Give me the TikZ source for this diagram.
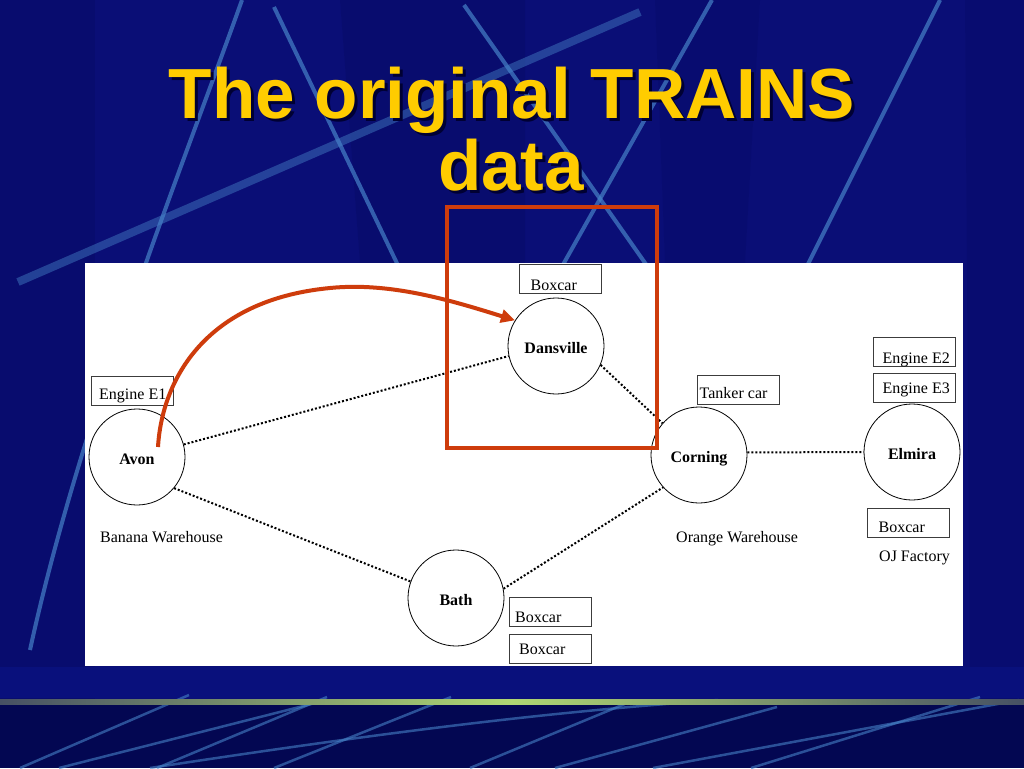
\documentclass[tikz,border=0pt]{standalone}
\usepackage{fontspec}
\setmainfont{Liberation Serif}
\newfontfamily\titlefont{Liberation Sans}
\usetikzlibrary{arrows.meta}
\definecolor{bgnavy}{RGB}{10,14,118}
\definecolor{bandnavy}{RGB}{4,8,90}
\definecolor{darknavy}{RGB}{3,7,82}
\definecolor{stripnavy}{RGB}{9,16,124}
\definecolor{streak}{RGB}{70,130,200}
\definecolor{gold}{RGB}{255,204,0}
\definecolor{redor}{RGB}{206,60,12}
\definecolor{boxgray}{RGB}{60,60,60}
\definecolor{lgreen}{RGB}{175,215,115}
\definecolor{lgray}{RGB}{70,80,100}
\begin{document}
\begin{tikzpicture}[x=1pt,y=-1pt,
  town/.style={circle, draw=black, fill=white, line width=0.8pt, minimum size=96pt, inner sep=0pt, text height=14pt, text depth=0pt, font=\fontsize{16}{19}\selectfont\bfseries},
  cbox/.style={rectangle, draw=boxgray, fill=white, line width=1pt, minimum width=82pt, minimum height=29pt, inner sep=0pt},
  lbl/.style={font=\fontsize{16}{19}\selectfont, inner sep=0pt, anchor=base west},
  track/.style={line width=2pt, dash pattern=on 2pt off 2pt},
  titletext/.style={font=\titlefont\bfseries\fontsize{71}{80}\selectfont, inner sep=0pt, anchor=base},
  streakline/.style={draw=streak, line width=4pt, opacity=0.7},
  lowstreak/.style={draw=streak, line width=2.5pt, opacity=0.6},
  redarrow/.style={draw=redor, line width=4pt, -{Triangle[length=14pt,width=13pt]}}
]
\useasboundingbox (0,0) rectangle (1024,768);
% background
\fill[bgnavy] (0,0) rectangle (1024,768);
\fill[bandnavy, opacity=0.25] (0,0) rectangle (95,700);
\fill[bandnavy, opacity=0.25] (340,0) -- (525,0) -- (525,263) -- (360,263) -- cycle;
\fill[bandnavy, opacity=0.2] (655,0) -- (760,0) -- (745,263) -- (665,263) -- cycle;
\fill[bandnavy, opacity=0.2] (965,0) -- (1024,0) -- (1024,700) -- (970,700) -- cycle;
% top streaks
\draw[streakline] (242,0) .. controls (185,160) and (80,420) .. (30,650);
\draw[streakline] (274,7) -- (405,280);
\draw[streakline, line width=8pt, opacity=0.45] (640,12) -- (18,282);
\draw[streakline] (464,5) -- (650,270);
\draw[streakline] (712,0) -- (560,270);
\draw[streakline] (940,0) -- (805,270);
% bottom
\fill[stripnavy] (0,667) rectangle (1024,698);
\fill[darknavy] (0,704) rectangle (1024,768);
\begin{scope}
\clip (0,690) rectangle (1024,768);
\draw[lowstreak] (189,695) -- (20,768);
\draw[lowstreak] (327,697) -- (157,768);
\draw[lowstreak] (451,697) -- (274,768);
\draw[lowstreak] (150,768) .. controls (400,730) and (550,712) .. (718,700);
\draw[lowstreak] (59,768) -- (327,700);
\draw[lowstreak] (627,703) -- (470,768);
\draw[lowstreak] (777,707) -- (555,768);
\draw[lowstreak] (1019,700) -- (653,768);
\draw[lowstreak] (980,697) -- (751,768);
\end{scope}
\shade[left color=lgray, right color=lgray, middle color=lgreen] (0,699) rectangle (1024,704);
% title
\node[titletext, text=black!80!blue] (t1s) at (515,121) {The original TRAINS};
\node[titletext, text=black!80!blue] (t2s) at (514,193) {data};
\node[titletext, text=gold] (t1) at (512,118) {The original TRAINS};
\node[titletext, text=gold] (t2) at (511,190) {data};
% panel
\fill[white] (85,263) rectangle (963,666);
% towns
\node[town] (avon) at (137,457) {Avon};
\node[town] (dans) at (556,346) {Dansville};
\node[town] (corn) at (699,455) {Corning};
\node[town] (elm) at (912,452) {Elmira};
\node[town] (bath) at (456,598) {Bath};
% tracks
\draw[track] (avon.15) -- (dans.192);
\draw[track] (avon.-40) -- (bath.160);
\draw[track] (dans.-23) -- (corn.139);
\draw[track] (corn.3) -- (elm.180);
\draw[track] (bath.11) -- (corn.-138);
% boxes
\node[cbox] (bxD) at (560,278.5) {};
\node[lbl] (tD) at ([xshift=12pt,yshift=3pt]bxD.south west) {Boxcar};
\node[cbox] (bxE1) at (132.5,391) {};
\node[lbl] (tE1) at ([xshift=8pt,yshift=7pt]bxE1.south west) {Engine E1};
\node[cbox] (bxT) at (738,390) {};
\node[lbl] (tT) at ([xshift=3pt,yshift=7pt]bxT.south west) {Tanker car};
\node[cbox] (bxE2) at (914,351.5) {};
\node[lbl] (tE2) at ([xshift=10pt,yshift=3pt]bxE2.south west) {Engine E2};
\node[cbox] (bxE3) at (914,387.5) {};
\node[lbl] (tE3) at ([xshift=10pt,yshift=9pt]bxE3.south west) {Engine E3};
\node[cbox] (bxEb) at (908,522.5) {};
\node[lbl] (tEb) at ([xshift=12pt,yshift=5pt]bxEb.south west) {Boxcar};
\node[cbox] (bxB1) at (550.5,611.5) {};
\node[lbl] (tB1) at ([xshift=6pt,yshift=4pt]bxB1.south west) {Boxcar};
\node[cbox] (bxB2) at (550.5,649) {};
\node[lbl] (tB2) at ([xshift=10pt,yshift=10pt]bxB2.south west) {Boxcar};
% place labels
\node[lbl] (banana) at (100,542) {Banana Warehouse};
\node[lbl] (orange) at (676,542) {Orange Warehouse};
\node[lbl] (ojf) at (879,561) {OJ Factory};
% highlight box and arrow
\draw[redor, line width=4pt] (447,207) rectangle (657,448);
\draw[redarrow] ([xshift=21pt,yshift=10pt]avon.center) .. controls (162,380) and (205,300) .. (330,288) .. controls (390,282) and (450,300) .. (dans.148);
\end{tikzpicture}
\end{document}
